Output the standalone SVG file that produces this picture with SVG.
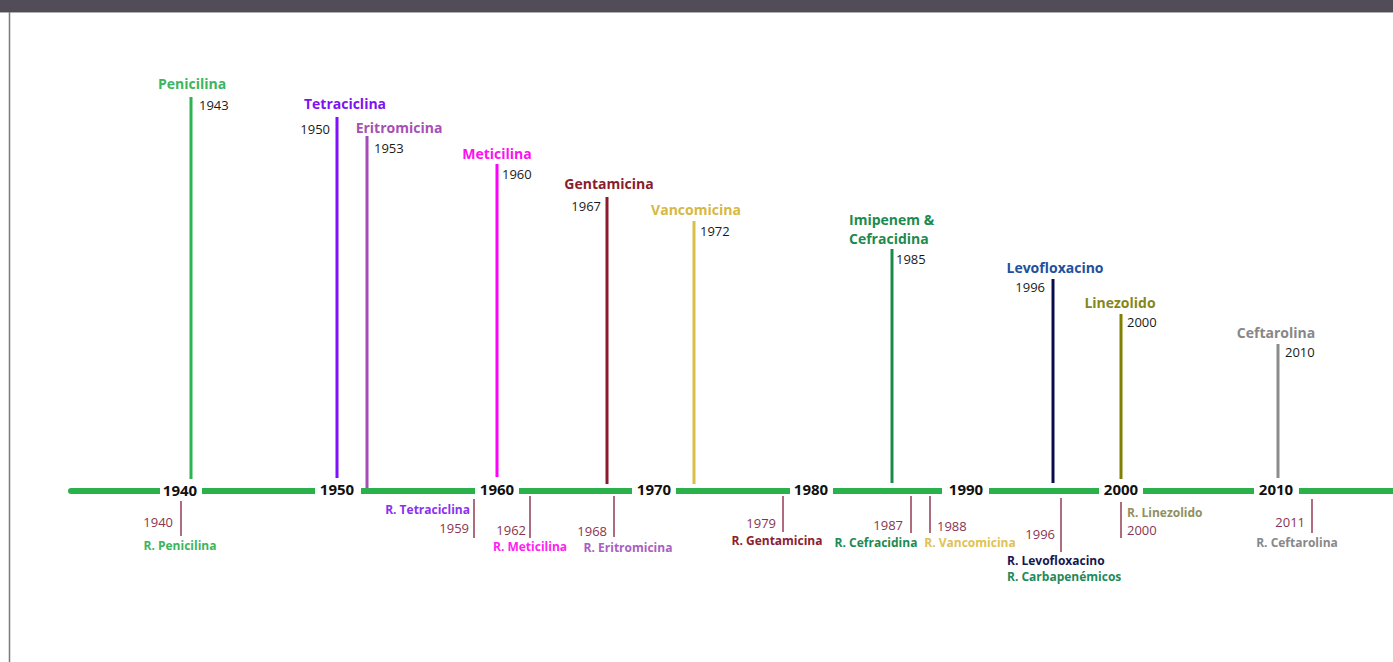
<svg xmlns="http://www.w3.org/2000/svg" width="1393" height="662" viewBox="0 0 1393 662">
<style>
  text { font-family: "Open Sans", "Liberation Sans", sans-serif; }
  .drug { font-size: 14px; font-weight: bold; }
  .yr { font-size: 13px; fill: #1a1a1a; }
  .axisyr { font-size: 15px; font-weight: bold; fill: #111; }
  .res { font-size: 12px; font-weight: bold; }
  .ryr { font-size: 13px; fill: #8a3550; }
  .stem { stroke-width: 3; fill: none; }
  .rstem { stroke: #8a2f48; stroke-width: 1.4; fill: none; }
  .axis { stroke: #2ab14c; stroke-width: 6; stroke-linecap: butt; fill: none; }
</style>
<rect x="0" y="0" width="1393" height="662" fill="#ffffff"/>
<g id="frame">
  <rect x="0" y="0" width="1393" height="12" fill="#524c58"/>
  <line x1="0" y1="12.5" x2="1393" y2="12.5" stroke="#b0b0b0" stroke-width="1"/>
  <line x1="9.5" y1="12" x2="9.5" y2="662" stroke="#7a7a7a" stroke-width="1.5"/>
</g>

<g id="connectors">
  <g id="axis">
    <line class="axis" x1="71" y1="491" x2="160" y2="491"/>
    <circle cx="71" cy="491" r="3" fill="#2ab14c"/>
    <line class="axis" x1="202" y1="491" x2="315" y2="491"/>
    <line class="axis" x1="361" y1="491" x2="475" y2="491"/>
    <line class="axis" x1="519" y1="491" x2="632" y2="491"/>
    <line class="axis" x1="676" y1="491" x2="790" y2="491"/>
    <line class="axis" x1="833" y1="491" x2="942" y2="491"/>
    <line class="axis" x1="989" y1="491" x2="1099" y2="491"/>
    <line class="axis" x1="1143" y1="491" x2="1254" y2="491"/>
    <line class="axis" x1="1299" y1="491" x2="1393" y2="491"/>
  </g>
</g>

<g id="axis-labels">
  <text class="axisyr" x="180" y="496" text-anchor="middle">1940</text>
  <text class="axisyr" x="337" y="495" text-anchor="middle">1950</text>
  <text class="axisyr" x="497" y="495" text-anchor="middle">1960</text>
  <text class="axisyr" x="654" y="495" text-anchor="middle">1970</text>
  <text class="axisyr" x="811" y="495" text-anchor="middle">1980</text>
  <text class="axisyr" x="966" y="495" text-anchor="middle">1990</text>
  <text class="axisyr" x="1121" y="495" text-anchor="middle">2000</text>
  <text class="axisyr" x="1276" y="495" text-anchor="middle">2010</text>
</g>

<!-- Drug introductions -->
<g id="penicilina">
  <line class="stem" x1="191" y1="97" x2="191" y2="479" stroke="#2fb352"/>
  <text class="drug" x="192" y="89" text-anchor="middle" fill="#3cb55e">Penicilina</text>
  <text class="yr" x="199" y="110">1943</text>
</g>
<g id="tetraciclina">
  <line class="stem" x1="337" y1="117" x2="337" y2="478" stroke="#7f0fff"/>
  <text class="drug" x="345" y="109" text-anchor="middle" fill="#7f12f2">Tetraciclina</text>
  <text class="yr" x="330" y="134" text-anchor="end">1950</text>
</g>
<g id="eritromicina">
  <line class="stem" x1="367" y1="136" x2="367" y2="488" stroke="#a44db8"/>
  <text class="drug" x="399" y="133" text-anchor="middle" fill="#a650b6">Eritromicina</text>
  <text class="yr" x="374" y="153">1953</text>
</g>
<g id="meticilina">
  <line class="stem" x1="497" y1="164" x2="497" y2="477" stroke="#ff00ff"/>
  <text class="drug" x="497" y="159" text-anchor="middle" fill="#ff10f0">Meticilina</text>
  <text class="yr" x="502" y="179">1960</text>
</g>
<g id="gentamicina">
  <line class="stem" x1="607" y1="197" x2="607" y2="484" stroke="#8b1a2e"/>
  <text class="drug" x="609" y="189" text-anchor="middle" fill="#8b1c2c">Gentamicina</text>
  <text class="yr" x="601" y="211" text-anchor="end">1967</text>
</g>
<g id="vancomicina">
  <line class="stem" x1="694" y1="221" x2="694" y2="484" stroke="#dbbd4a"/>
  <text class="drug" x="696" y="215" text-anchor="middle" fill="#d6b844">Vancomicina</text>
  <text class="yr" x="700" y="236">1972</text>
</g>
<g id="imipenem">
  <line class="stem" x1="892" y1="249" x2="892" y2="483" stroke="#1a8a4c"/>
  <text class="drug" x="849" y="225" fill="#1e8a50">Imipenem &amp;</text>
  <text class="drug" x="849" y="244" fill="#1e8a50">Cefracidina</text>
  <text class="yr" x="896" y="264">1985</text>
</g>
<g id="levofloxacino">
  <line class="stem" x1="1053" y1="279" x2="1053" y2="483" stroke="#0c0c4c"/>
  <text class="drug" x="1055" y="273" text-anchor="middle" fill="#23509c">Levofloxacino</text>
  <text class="yr" x="1045" y="292" text-anchor="end">1996</text>
</g>
<g id="linezolido">
  <line class="stem" x1="1121" y1="314" x2="1121" y2="479" stroke="#808000"/>
  <text class="drug" x="1120" y="308" text-anchor="middle" fill="#86861a">Linezolido</text>
  <text class="yr" x="1127" y="327">2000</text>
</g>
<g id="ceftarolina">
  <line class="stem" x1="1278" y1="344" x2="1278" y2="478" stroke="#8c8c8c"/>
  <text class="drug" x="1276" y="338" text-anchor="middle" fill="#878787">Ceftarolina</text>
  <text class="yr" x="1285" y="357">2010</text>
</g>

<!-- Resistances -->
<g id="r-penicilina">
  <line class="rstem" x1="181" y1="501" x2="181" y2="536"/>
  <text class="ryr" x="173" y="527" text-anchor="end">1940</text>
  <text class="res" x="180" y="550" text-anchor="middle" fill="#3cb55e">R. Penicilina</text>
</g>
<g id="r-tetraciclina">
  <line class="rstem" x1="474" y1="499" x2="474" y2="538"/>
  <text class="res" x="470" y="514" text-anchor="end" fill="#8a30f0">R. Tetraciclina</text>
  <text class="ryr" x="469" y="533" text-anchor="end">1959</text>
</g>
<g id="r-meticilina">
  <line class="rstem" x1="530" y1="496" x2="530" y2="538"/>
  <text class="ryr" x="526" y="535" text-anchor="end">1962</text>
  <text class="res" x="530" y="551" text-anchor="middle" fill="#ff22ee">R. Meticilina</text>
</g>
<g id="r-eritromicina">
  <line class="rstem" x1="614" y1="496" x2="614" y2="537"/>
  <text class="ryr" x="607" y="536" text-anchor="end">1968</text>
  <text class="res" x="628" y="552" text-anchor="middle" fill="#a860c0">R. Eritromicina</text>
</g>
<g id="r-gentamicina">
  <line class="rstem" x1="783" y1="496" x2="783" y2="532"/>
  <text class="ryr" x="776" y="528" text-anchor="end">1979</text>
  <text class="res" x="777" y="545" text-anchor="middle" fill="#8b2030">R. Gentamicina</text>
</g>
<g id="r-cefracidina">
  <line class="rstem" x1="911" y1="496" x2="911" y2="533"/>
  <text class="ryr" x="903" y="530" text-anchor="end">1987</text>
  <text class="res" x="876" y="547" text-anchor="middle" fill="#1e8a50">R. Cefracidina</text>
</g>
<g id="r-vancomicina">
  <line class="rstem" x1="930" y1="496" x2="930" y2="533"/>
  <text class="ryr" x="937" y="531">1988</text>
  <text class="res" x="970" y="547" text-anchor="middle" fill="#e0c252">R. Vancomicina</text>
</g>
<g id="r-levofloxacino">
  <line class="rstem" x1="1061" y1="498" x2="1061" y2="552"/>
  <text class="ryr" x="1055" y="539" text-anchor="end">1996</text>
  <text class="res" x="1007" y="565" fill="#161650">R. Levofloxacino</text>
  <text class="res" x="1007" y="581" fill="#1e8a5a">R. Carbapenémicos</text>
</g>
<g id="r-linezolido">
  <line class="rstem" x1="1121" y1="502" x2="1121" y2="538"/>
  <text class="res" x="1127" y="517" fill="#909060">R. Linezolido</text>
  <text class="ryr" x="1127" y="535">2000</text>
</g>
<g id="r-ceftarolina">
  <line class="rstem" x1="1312" y1="499" x2="1312" y2="533"/>
  <text class="ryr" x="1305" y="527" text-anchor="end">2011</text>
  <text class="res" x="1297" y="547" text-anchor="middle" fill="#888888">R. Ceftarolina</text>
</g>
</svg>
